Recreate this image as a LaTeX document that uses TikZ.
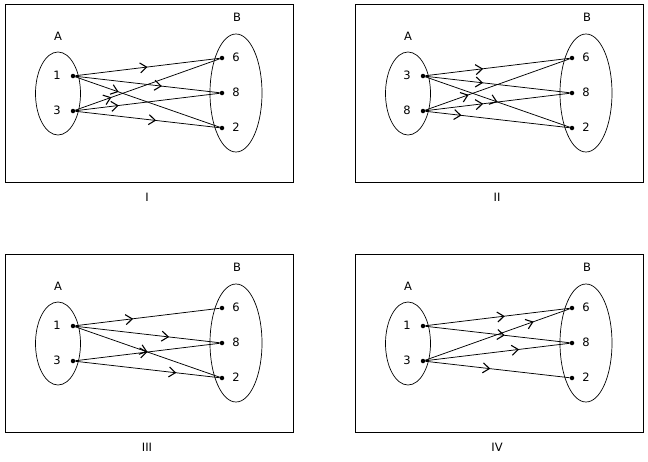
\documentclass[tikz,border=0pt]{standalone}
\usepackage{fontspec}
\setmainfont{DejaVu Sans}
\usetikzlibrary{arrows.meta,decorations.markings,shapes.geometric}
\tikzset{
  frame/.style={draw,line width=0.9pt},
  setel/.style={draw,ellipse,line width=0.7pt,inner sep=0},
  dotn/.style={circle,fill,inner sep=0,minimum size=4.5pt},
  lab/.style={font=\fontsize{11.5}{13}\selectfont,inner sep=0},
  conn/.style={line width=0.75pt,postaction={decorate,decoration={markings,
    mark=at position #1 with {\arrow[line width=1.1pt]{Straight Barb[length=6.5pt,width=10pt]}}}}}
}
\newcommand\panel[6]{%
\begin{scope}[shift={(#2,#3)}]
  \draw[frame] (5,4) rectangle (293,182);
  \node[lab] (#1cap) at (147,197) {#6};
  \node[setel,minimum width=45pt,minimum height=83pt] (#1A) at (58,93.5) {};
  \node[setel,minimum width=52pt,minimum height=118pt] (#1B) at (236,93) {};
  \node[lab] (#1Al) at (58,36) {A};
  \node[lab] (#1Bl) at (237,17) {B};
  \node[dotn] (#1a) at (73,76) {};
  \node[dotn] (#1b) at (73,111) {};
  \node[lab] (#1al) at (57,75.5) {#4};
  \node[lab] (#1bl) at (57,110.5) {#5};
  \node[dotn] (#1p) at (222,58) {};
  \node[dotn] (#1q) at (222,93) {};
  \node[dotn] (#1r) at (222,128) {};
  \node[lab] (#1pl) at (236,57.5) {6};
  \node[lab] (#1ql) at (236,92.5) {8};
  \node[lab] (#1rl) at (236,127.5) {2};
\end{scope}}
\begin{document}
\begin{tikzpicture}[x=1pt,y=-1pt]
  \useasboundingbox (0,0) rectangle (648,461);
  \panel{I}{0}{0}{1}{3}{I}
  \draw[conn=0.5] (Ia) -- (Ip);
  \draw[conn=0.6] (Ia) -- (Iq);
  \draw[conn=0.3] (Ia) -- (Ir);
  \draw[conn=0.25] (Ib) -- (Ip);
  \draw[conn=0.3] (Ib) -- (Iq);
  \draw[conn=0.56] (Ib) -- (Ir);
  \panel{II}{350}{0}{3}{8}{II}
  \draw[conn=0.4] (IIa) -- (IIp);
  \draw[conn=0.4] (IIa) -- (IIq);
  \draw[conn=0.5] (IIa) -- (IIr);
  \draw[conn=0.3] (IIb) -- (IIp);
  \draw[conn=0.4] (IIb) -- (IIq);
  \draw[conn=0.25] (IIb) -- (IIr);
  \panel{III}{0}{250}{1}{3}{III}
  \draw[conn=0.4] (IIIa) -- (IIIp);
  \draw[conn=0.65] (IIIa) -- (IIIq);
  \draw[conn=0.5] (IIIa) -- (IIIr);
  \draw[conn=0.5] (IIIb) -- (IIIq);
  \draw[conn=0.7] (IIIb) -- (IIIr);
  \panel{IV}{350}{250}{1}{3}{IV}
  \draw[conn=0.55] (IVa) -- (IVp);
  \draw[conn=0.55] (IVa) -- (IVq);
  \draw[conn=0.75] (IVb) -- (IVp);
  \draw[conn=0.65] (IVb) -- (IVq);
  \draw[conn=0.45] (IVb) -- (IVr);
\end{tikzpicture}
\end{document}
